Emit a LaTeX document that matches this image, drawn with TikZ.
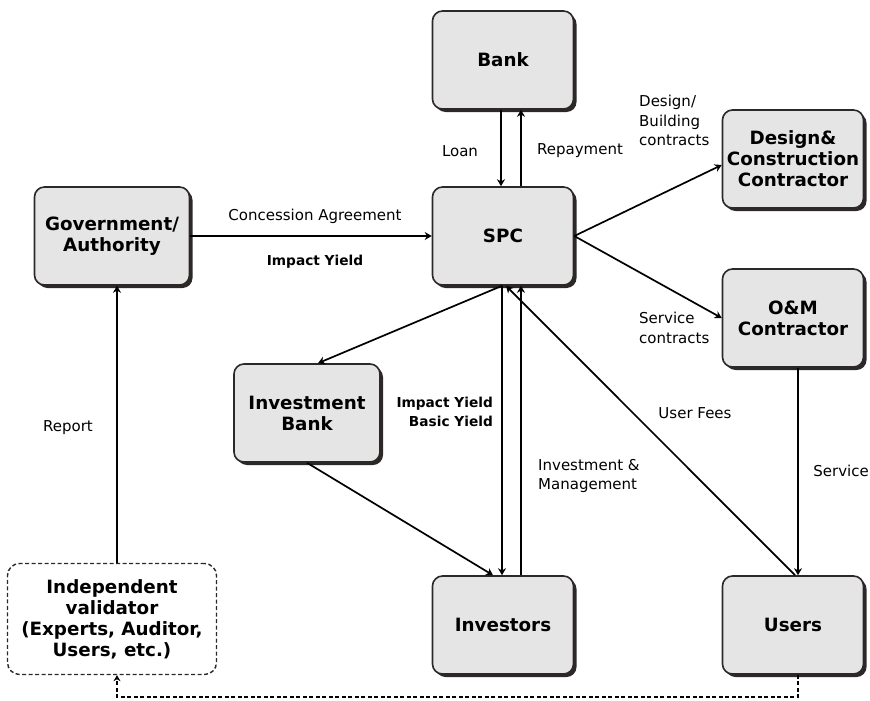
\documentclass[tikz,border=0pt]{standalone}
\usepackage{fontspec}
\setmainfont{DejaVu Sans}
\usetikzlibrary{arrows.meta,shadows}
\definecolor{boxfill}{RGB}{229,229,229}
\definecolor{boxline}{RGB}{45,40,40}
\tikzset{
  box/.style={draw=boxline, line width=1.6pt, fill=boxfill, rounded corners=10pt,
    minimum width=141pt, minimum height=98pt, align=center,
    font=\fontsize{18.3}{21}\selectfont\bfseries,
    drop shadow={shadow xshift=3pt, shadow yshift=-3pt, fill=boxline, opacity=1}},
  dashbox/.style={draw=boxline, line width=1.4pt, dash pattern=on 4pt off 2.5pt,
    rounded corners=12pt, fill=white, minimum width=209pt, minimum height=111pt,
    align=center, font=\fontsize{18.3}{21}\selectfont\bfseries},
  conn/.style={line width=1.7pt, -{Stealth[length=7pt,width=8pt]}},
  dconn/.style={line width=1.4pt, dash pattern=on 4pt off 2.5pt, -{Stealth[length=6pt,width=7pt]}},
  lbl/.style={font=\fontsize{15}{19.5}\selectfont, inner sep=0pt},
  blbl/.style={font=\fontsize{13.7}{19}\selectfont\bfseries, inner sep=0pt}
}
\begin{document}
\begin{tikzpicture}[x=1pt,y=-1pt]
\useasboundingbox (0,0) rectangle (870,701);
% boxes
\node[box] (bank) at (503,60) {Bank};
\node[box] (spc) at (503,236) {SPC};
\node[box, minimum width=155pt] (gov) at (112,236) {Government/\\Authority};
\node[box] (dc) at (793,159) {Design\&\\Construction\\Contractor};
\node[box] (om) at (793,318) {O\&M\\Contractor};
\node[box, minimum width=146pt] (ib) at (307,413) {Investment\\Bank};
\node[box] (inv) at (503,625) {Investors};
\node[box] (users) at (793,625) {Users};
\node[dashbox] (val) at (112,619) {Independent\\validator\\(Experts, Auditor,\\Users, etc.)};
% connectors
\draw[conn] ([xshift=-2pt]bank.south) -- ([xshift=-2pt]spc.north);
\draw[conn] ([xshift=18pt]spc.north) -- ([xshift=18pt]bank.south);
\draw[conn] (gov.east |- spc.west) -- (spc.west);
\draw[conn] (spc.east) -- ([yshift=-6pt]dc.west);
\draw[conn] (spc.east) -- (om.west);
\draw[conn] ([xshift=-1pt]spc.south) -- ([xshift=11pt]ib.north);
\draw[conn] (ib.south) -- ([xshift=-10pt]inv.north);
\draw[conn] ([xshift=-1pt]spc.south) -- ([xshift=-1pt]inv.north);
\draw[conn] ([xshift=18pt]inv.north) -- ([xshift=18pt]spc.south);
\draw[conn] ([xshift=2pt]users.north) -- ([xshift=3pt]spc.south);
\draw[conn] ([xshift=5pt]om.south) -- ([xshift=5pt]users.north);
\draw[conn] ([xshift=5pt]val.north) -- ([xshift=5pt]gov.south);
\coordinate (dturn) at ([xshift=5pt]users.south |- 0,697);
\draw[dconn] ([xshift=5pt]users.south) -- (dturn) -| ([xshift=5pt]val.south);
% labels
\node[lbl] (lloan) at (460,151) {Loan};
\node[lbl] (lrep) at (580,151) {Repayment};
\node[lbl] (lca) at (315,216) {Concession Agreement};
\node[blbl] (liy) at (315,262) {Impact Yield};
\node[lbl, anchor=north west, align=left] (ldb) at (639,95) {Design/\\Building\\contracts};
\node[lbl, anchor=north west, align=left] (lsc) at (639,312) {Service\\contracts};
\node[blbl, anchor=north east, align=right] (lyield) at (493,397) {Impact Yield\\Basic Yield};
\node[lbl, anchor=north west, align=left] (lim) at (538,459) {Investment \&\\Management};
\node[lbl] (luf) at (695,413) {User Fees};
\node[lbl, anchor=east] (lsv) at (869,471) {Service};
\node[lbl] (lrp) at (68,428) {Report};
\end{tikzpicture}
\end{document}
